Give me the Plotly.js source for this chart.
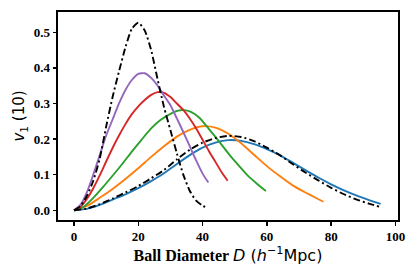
<!DOCTYPE html>
<html>
<head>
<meta charset="utf-8">
<script src="https://cdn.plot.ly/plotly-3.0.1.min.js"></script>
<style>html,body{margin:0;padding:0;background:#fff;}#chart{width:415px;height:277px;}</style>
</head>
<body>
<div id="chart"></div>
<script>
// Black dash-dot (narrow)
const dBlackN = [0,2,4,6,8,10,12,14,16,18,20,22,24,26,28,30,32,34,36,38,40,41.5];
const vBlackN = [0,0.012,0.04,0.083,0.145,0.235,0.318,0.39,0.458,0.51,0.527,0.505,0.45,0.368,0.29,0.225,0.16,0.1,0.055,0.027,0.013,0.007];
// Purple
const dPurple = [0,2,4,6,8,10,12,14,16,18,20,22,24,26,28,30,32,34,36,38,40,41.8];
const vPurple = [0,0.015,0.05,0.1,0.155,0.21,0.255,0.3,0.338,0.366,0.383,0.385,0.372,0.35,0.322,0.295,0.258,0.22,0.18,0.14,0.103,0.078];
// Red
const dRed = [0,2,4,6,8,10,12,14,16,18,20,22,24,26,28,30,32,34,36,38,40,42,44,46,47.8];
const vRed = [0,0.01,0.032,0.062,0.098,0.137,0.175,0.21,0.242,0.27,0.292,0.31,0.324,0.332,0.33,0.318,0.3,0.282,0.258,0.23,0.198,0.166,0.136,0.106,0.083];
// Green
const dGreen = [0,3,6,9,12,15,18,21,24,27,30,33,36,39,42,45,48,51,54,57,59.7];
const vGreen = [0,0.01,0.035,0.065,0.097,0.13,0.165,0.198,0.23,0.254,0.271,0.281,0.278,0.26,0.228,0.195,0.16,0.128,0.098,0.074,0.054];
// Orange
const dOrange = [0,4,8,12,16,20,24,28,32,36,40,44,48,52,56,60,64,68,72,75,77.6];
const vOrange = [0,0.012,0.035,0.06,0.088,0.118,0.15,0.18,0.207,0.226,0.236,0.232,0.215,0.188,0.156,0.124,0.096,0.07,0.05,0.036,0.024];
// Blue
const dBlue = [0,4,8,12,16,20,24,28,32,36,40,44,48,52,56,60,64,68,72,76,80,84,88,92,95.4];
const vBlue = [0,0.004,0.015,0.03,0.045,0.062,0.082,0.104,0.13,0.155,0.176,0.19,0.197,0.195,0.186,0.172,0.155,0.134,0.113,0.092,0.073,0.056,0.041,0.028,0.018];
// Black dash-dot (wide)
const dBlackW = [0,4,8,12,16,20,24,28,32,36,40,44,48,52,56,60,64,68,72,76,80,84,88,92,95];
const vBlackW = [0,0.005,0.017,0.033,0.05,0.068,0.09,0.113,0.143,0.17,0.19,0.203,0.209,0.206,0.194,0.176,0.155,0.13,0.106,0.084,0.063,0.045,0.03,0.018,0.01];

const xTicks = [0,20,40,60,80,100];
const yTicks = [0,0.1,0.2,0.3,0.4,0.5];
const yTickText = ['0.0','0.1','0.2','0.3','0.4','0.5'];

const dashDot = '7px,3px,2px,3px';
function line(x, y, color, dash) {
  return {x: x, y: y, type: 'scatter', mode: 'lines',
    line: {color: color, width: 1.9, dash: dash || 'solid', shape: 'spline', smoothing: 0.6},
    hoverinfo: 'skip', showlegend: false};
}
const data = [
  line(dBlue, vBlue, '#1f77b4'),
  line(dOrange, vOrange, '#ff7f0e'),
  line(dGreen, vGreen, '#2ca02c'),
  line(dRed, vRed, '#d62728'),
  line(dPurple, vPurple, '#9467bd'),
  line(dBlackW, vBlackW, '#000000', dashDot),
  line(dBlackN, vBlackN, '#000000', dashDot)
];

const tickFont = {family: 'Liberation Serif', size: 13, color: '#000'};
const layout = {
  width: 415, height: 277,
  margin: {l: 58, r: 17, t: 12, b: 57},
  paper_bgcolor: '#fff', plot_bgcolor: '#fff',
  xaxis: {
    range: [-4.98, 100.8], tickvals: xTicks, ticktext: xTicks.map(v => '<b>' + v + '</b>'),
    showgrid: false, zeroline: false,
    showline: true, mirror: true, linecolor: '#000', linewidth: 2,
    ticks: 'outside', ticklen: 3.5, tickwidth: 1.3, tickcolor: '#000',
    tickfont: tickFont,
    title: {text: "<b>Ball Diameter</b> <span style='font-family:DejaVu Sans;font-weight:normal'><i>D</i> (<i>h</i><sup>−1</sup>Mpc)</span>",
      font: {family: 'Liberation Serif', size: 16, color: '#000'}, standoff: 4}
  },
  yaxis: {
    range: [-0.0273, 0.557], tickvals: yTicks, ticktext: yTickText.map(v => '<b>' + v + '</b>'),
    showgrid: false, zeroline: false,
    showline: true, mirror: true, linecolor: '#000', linewidth: 2,
    ticks: 'outside', ticklen: 3.5, tickwidth: 1.3, tickcolor: '#000',
    tickfont: tickFont,
    title: {text: '<i>v</i><sub>1</sub> (10)', font: {family: 'DejaVu Sans', size: 15, color: '#000'}, standoff: 5}
  }
};
Plotly.newPlot('chart', data, layout, {displayModeBar: false, staticPlot: true});
</script>
</body>
</html>
